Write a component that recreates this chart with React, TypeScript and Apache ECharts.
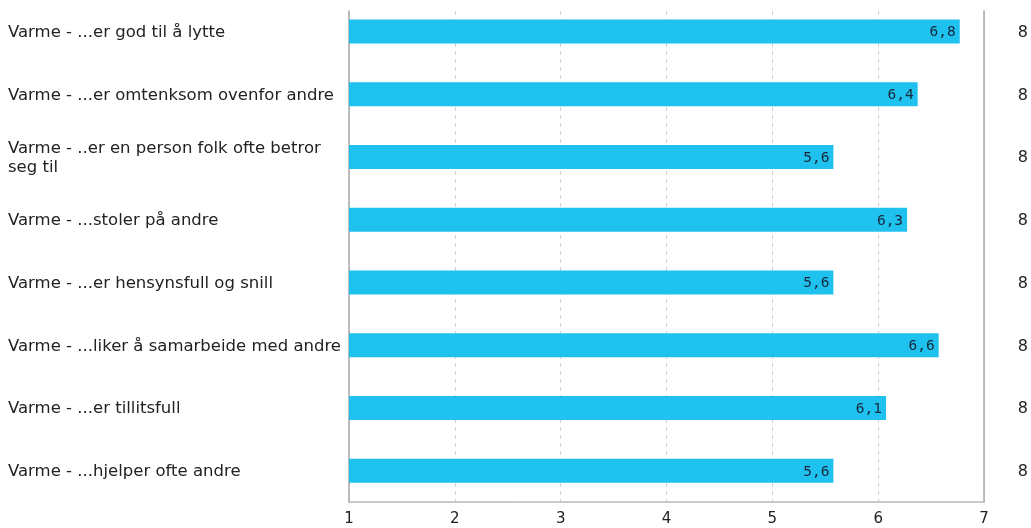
import React, { useEffect, useRef } from "react";
import * as echarts from "echarts";

// Statements, top to bottom
const categories: string[] = [
  "Varme - ...er god til å lytte",
  "Varme - ...er omtenksom ovenfor andre",
  "Varme - ..er en person folk ofte betror seg til",
  "Varme - ...stoler på andre",
  "Varme - ...er hensynsfull og snill",
  "Varme - ...liker å samarbeide med andre",
  "Varme - ...er tillitsfull",
  "Varme - ...hjelper ofte andre",
];

// Mean scores on the 1–7 scale
const scores: number[] = [6.8, 6.4, 5.6, 6.3, 5.6, 6.6, 6.1, 5.6];

// Respondent counts shown in the right-hand column
const counts: string[] = ["8", "8", "8", "8", "8", "8", "8", "8"];

const xTicks = { min: 1, max: 7, interval: 1 };

const FONT = "'DejaVu Sans', Verdana, sans-serif";
const MONO = "'DejaVu Sans Mono', monospace";

const LEFT = 349;
const RIGHT = 47;
const BOTTOM = 26;

export default function App() {
  const ref = useRef<HTMLDivElement>(null);

  useEffect(() => {
    if (!ref.current) return;
    const chart = echarts.init(ref.current, undefined, { renderer: "svg" });
    chart.setOption({
      animation: false,
      grid: [
        // bars and category labels
        { left: LEFT, right: RIGHT, top: 0, bottom: BOTTOM, containLabel: false },
        // frame, dashed guides and the 1–7 scale (starts a little below the top)
        { left: LEFT, right: RIGHT, top: 11, bottom: BOTTOM, containLabel: false },
      ],
      xAxis: [
        {
          type: "value",
          gridIndex: 0,
          min: xTicks.min,
          max: xTicks.max,
          interval: xTicks.interval,
          show: false,
        },
        {
          type: "value",
          gridIndex: 1,
          min: xTicks.min,
          max: xTicks.max,
          interval: xTicks.interval,
          axisLine: { show: true, lineStyle: { color: "#b8b8b8", width: 1.5 } },
          axisTick: { show: false },
          axisLabel: {
            color: "#222",
            fontFamily: FONT,
            fontSize: 15,
            margin: 8,
          },
          splitLine: {
            show: true,
            lineStyle: { color: "#cfcfcf", type: [4, 4], width: 1 },
          },
        },
      ],
      yAxis: [
        {
          type: "category",
          gridIndex: 0,
          data: categories,
          inverse: true,
          position: "left",
          axisLine: { show: false },
          axisTick: { show: false },
          axisLabel: {
            color: "#222",
            fontFamily: FONT,
            fontSize: 16.5,
            align: "left",
            margin: 341,
            width: 345,
            overflow: "break",
            lineHeight: 19,
          },
        },
        {
          type: "category",
          gridIndex: 0,
          data: categories,
          inverse: true,
          position: "right",
          axisLine: { show: false },
          axisTick: { show: false },
          axisLabel: {
            color: "#222",
            fontFamily: FONT,
            fontSize: 16,
            align: "left",
            margin: 37,
            formatter: (_v: string, i: number) => counts[i],
          },
        },
        {
          type: "value",
          gridIndex: 1,
          position: "left",
          axisLine: { show: true, lineStyle: { color: "#a8a8a8", width: 1.5 } },
          axisTick: { show: false },
          axisLabel: { show: false },
          splitLine: { show: false },
        },
        {
          type: "value",
          gridIndex: 1,
          position: "right",
          axisLine: { show: true, lineStyle: { color: "#a8a8a8", width: 1.5 } },
          axisTick: { show: false },
          axisLabel: { show: false },
          splitLine: { show: false },
        },
      ],
      series: [
        {
          type: "bar",
          xAxisIndex: 0,
          yAxisIndex: 0,
          data: scores,
          barWidth: 24,
          itemStyle: { color: "#1fc1ef" },
          z: 3,
          label: {
            show: true,
            position: "insideRight",
            distance: 4,
            color: "#16283a",
            fontFamily: MONO,
            fontSize: 14.5,
            formatter: (p: any) => String(p.value.toFixed(1)).replace(".", ","),
          },
        },
      ],
    });
    return () => chart.dispose();
  }, []);

  return (
    <div
      ref={ref}
      style={{ position: "fixed", left: 0, top: 0, width: 1031, height: 528 }}
    />
  );
}
